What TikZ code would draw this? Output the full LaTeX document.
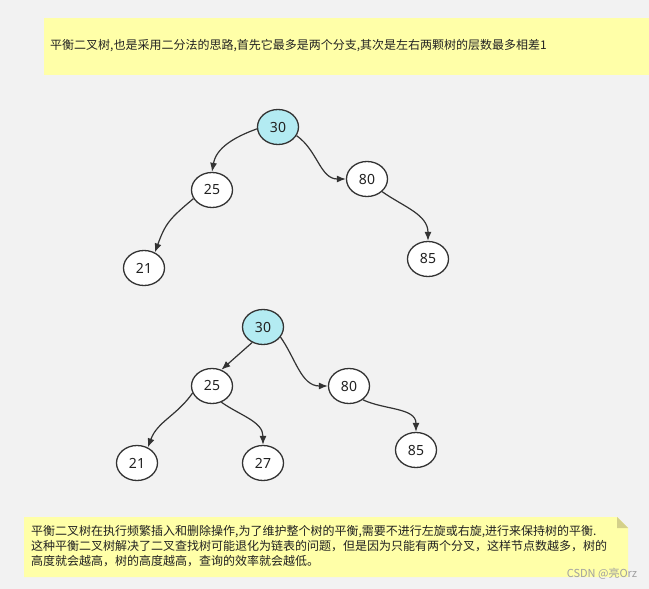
\documentclass[tikz,border=0pt]{standalone}
\usepackage{fontspec}
\setmainfont{Noto Sans}
\newfontfamily\cjk{Noto Sans CJK SC}
\usetikzlibrary{shapes.geometric,arrows.meta}
\definecolor{bgc}{HTML}{F2F2F2}
\definecolor{notey}{HTML}{FFFFA8}
\definecolor{foldc}{HTML}{D4D08A}
\definecolor{nodec}{HTML}{B3EBF2}
\definecolor{linec}{HTML}{333333}
\definecolor{textc}{HTML}{222222}
\definecolor{wmc}{HTML}{A0A0A0}
\tikzset{
  tn/.style={ellipse,draw=linec,line width=1.3pt,fill=white,minimum width=41pt,minimum height=35pt,inner sep=0pt,font=\fontsize{14}{14}\selectfont,text=textc},
  rootn/.style={tn,fill=nodec},
  edge/.style={draw=linec,line width=1.2pt,-{Latex[length=9pt,width=7pt]}},
  notetext/.style={font=\cjk\fontsize{12}{15}\selectfont,text=textc,inner sep=0pt,align=left}
}
\begin{document}
\begin{tikzpicture}[x=1pt,y=-1pt]
\fill[bgc] (0,0) rectangle (649,589);
\useasboundingbox (0,0) rectangle (649,589);
% top note
\fill[notey] (44,18) rectangle (649,75);
\node[notetext,anchor=west] (toptext) at (50,46) {平衡二叉树,也是采用二分法的思路,首先它最多是两个分支,其次是左右两颗树的层数最多相差1};
% bottom note
\fill[notey] (24,517) -- (617,517) -- (628,528) -- (628,577) -- (24,577) -- cycle;
\fill[foldc] (617,517) -- (628,528) -- (617,528) -- cycle;
\node[notetext,anchor=north west] (bottext) at (31,525) {平衡二叉树在执行频繁插入和删除操作,为了维护整个树的平衡,需要不进行左旋或右旋,进行来保持树的平衡.\\这种平衡二叉树解决了二叉查找树可能退化为链表的问题，但是因为只能有两个分叉，这样节点数越多，树的\\高度就会越高，树的高度越高，查询的效率就会越低。};
\node[font=\cjk\fontsize{11}{11}\selectfont,text=wmc,inner sep=0pt] (wm) at (602,574) {CSDN @亮Orz};
% first tree
\node[rootn] (a30) at (278,127) {30};
\node[tn] (a25) at (212,190) {25};
\node[tn] (a80) at (367,179) {80};
\node[tn] (a21) at (144,268) {21};
\node[tn] (a85) at (428,259) {85};
\draw[edge] (a30.185) to[out=200,in=80] (a25.north);
\draw[edge] (a30.-25) to[out=-35,in=180] (a80.west);
\draw[edge] (a25.205) to[out=220,in=70,looseness=1.2] (a21.55);
\draw[edge] (a80.-40) to[out=-35,in=90] (a85.north);
% second tree
\node[rootn] (b30) at (263,327) {30};
\node[tn] (b25) at (212,386) {25};
\node[tn] (b80) at (349,386) {80};
\node[tn] (b21) at (137,463) {21};
\node[tn] (b27) at (263,463) {27};
\node[tn] (b85) at (416,450) {85};
\draw[edge] (b30.235) -- (b25.60);
\draw[edge] (b30.-30) to[out=-55,in=180] (b80.west);
\draw[edge] (b25.200) to[out=235,in=70] (b21.55);
\draw[edge] (b25.-60) to[out=-35,in=90] (b27.north);
\draw[edge] (b80.-45) to[out=-25,in=90] (b85.north);
\end{tikzpicture}
\end{document}
